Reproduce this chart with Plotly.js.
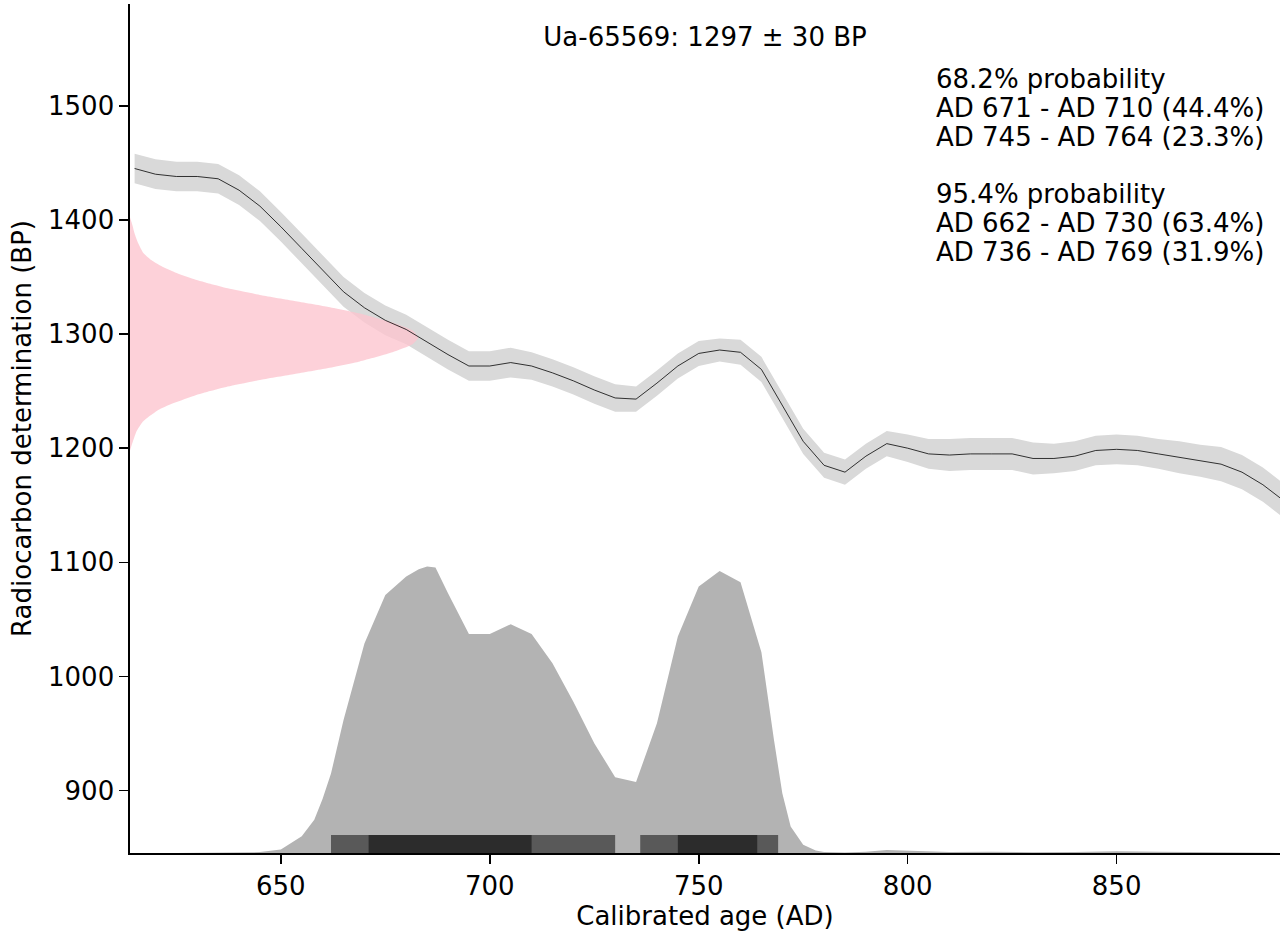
<!DOCTYPE html>
<html><head><meta charset="utf-8">
<script src="https://cdn.plot.ly/plotly-3.0.1.min.js"></script>
<style>html,body{margin:0;padding:0;background:#fff;}#chart{width:1280px;height:935px;}</style>
</head><body><div id="chart"></div>
<script>
// ---- data ----
const calYears = [615,620,625,630,635,640,645,650,655,660,665,670,675,680,685,690,695,700,705,710,715,720,725,730,735,740,745,750,755,760,765,770,775,780,785,790,795,800,805,810,815,820,825,830,835,840,845,850,855,860,865,870,875,880,885,890];
const calBP    = [1445,1440,1438,1438,1436,1426,1412,1394,1375,1356,1337,1323,1312,1304,1293,1282,1272,1272,1275,1272,1266,1259,1251,1244,1243,1257,1272,1283,1286,1284,1269,1237,1206,1185,1179,1193,1204,1200,1195,1194,1195,1195,1195,1191,1191,1193,1198,1199,1198,1195,1192,1189,1186,1179,1168,1154];
const calSigma = [13,13,13,13,13,13,13,13,13,13,13,13,13,13,13,13,13,13,13,12,12,12,12,12,11,11,11,11,10,11,11,11,11,11,11,11,11,12,13,14,14,14,14,14,13,13,13,13,13,13,14,14,15,15,15,15];

// measured date (pink, drawn against the y axis): BP and extent in years from the left axis
const pinkBP    = [1402,1395,1388,1380,1371,1365,1360,1354,1348,1344,1340,1334,1329,1324,1318,1310,1303,1297,1291,1284,1276,1270,1265,1260,1254,1250,1246,1240,1234,1228,1223,1215,1206,1198];
const pinkWidth = [0,0.6,1.1,1.9,3.2,5,7.2,10.8,15.4,19.2,23.4,31.4,39.4,47.2,55.0,62.8,67.6,69,67.6,62.8,55.0,47.2,39.4,31.4,23.4,19.2,15.4,10.8,7.0,4.6,3.0,1.6,0.7,0];

// calibrated probability distribution (drawn in BP units above the axis floor)
const distYears = [625,640,645,650,655,658,660,662,665,670,675,680,683,685,687,690,695,700,705,710,715,720,725,730,735,740,745,750,755,760,765,768,770,772,775,778,780,785,790,795,800,810,820,830,840,850,860,870,889];
const distBP    = [845.5,845.6,846.2,848.5,860,874.5,893,915,962,1029,1071.5,1087.5,1094,1096.3,1095.5,1073,1037.3,1037.3,1045.8,1037.3,1011.7,978,941.6,911.8,907.5,959.1,1035,1078.8,1092.5,1082.6,1021.3,944.5,897.8,868.6,852.6,847.5,846.3,845.8,846.5,848,847.3,846.3,846.5,846,846.3,847,846.5,846,845.5];

// highest probability ranges
const range95Start = [662,736], range95End = [730,769];
const range68Start = [671,745], range68End = [710,764];

const titleText = 'Ua-65569: 1297 \u00b1 30 BP';
const probLines = ['68.2% probability','AD 671 - AD 710 (44.4%)','AD 745 - AD 764 (23.3%)','95.4% probability','AD 662 - AD 730 (63.4%)','AD 736 - AD 769 (31.9%)'];
const xTicks = [650,700,750,800,850];
const yTicks = [900,1000,1100,1200,1300,1400,1500];

// ---- layout constants ----
const X_RANGE = [613.9, 889.1];
const Y_RANGE = [845.4, 1589.1];
const BAR_TOP = 861.2;
const FONT = 'DejaVu Sans, sans-serif';
const FS = 26;
const probLinePx = [79,108,137,194,223,252];
const M = {l:130, r:0, t:4, b:82};
const plotH = 935 - M.t - M.b;

function rangeTraces(starts, ends, color) {
  return starts.map((s,i)=>({
    x:[s, ends[i], ends[i], s, s], y:[Y_RANGE[0], Y_RANGE[0], BAR_TOP, BAR_TOP, Y_RANGE[0]],
    type:'scatter', mode:'lines', fill:'toself', fillcolor:color, line:{width:0, color:color}, hoverinfo:'skip'
  }));
}

const traces = [
  {x: distYears, y: distBP, type:'scatter', mode:'lines', fill:'tozeroy', fillcolor:'#b3b3b3', line:{width:0, color:'#b3b3b3'}, hoverinfo:'skip'},
  ...rangeTraces(range95Start, range95End, '#595959'),
  ...rangeTraces(range68Start, range68End, '#2c2c2c'),
  {x: calYears, y: calBP.map((v,i)=>v - calSigma[i]), type:'scatter', mode:'lines', line:{width:0, color:'#d9d9d9'}, hoverinfo:'skip'},
  {x: calYears, y: calBP.map((v,i)=>v + calSigma[i]), type:'scatter', mode:'lines', fill:'tonexty', fillcolor:'#d9d9d9', line:{width:0, color:'#d9d9d9'}, hoverinfo:'skip'},
  {x: pinkWidth.map(w => X_RANGE[0] + w), y: pinkBP, type:'scatter', mode:'lines', fill:'toself', fillcolor:'rgba(252,196,206,0.78)', line:{width:0, shape:'spline', smoothing:0.5}, hoverinfo:'skip'},
  {x: calYears, y: calBP, type:'scatter', mode:'lines', line:{width:1, color:'rgba(0,0,0,0.78)'}, hoverinfo:'skip'}
];

const axisCommon = {
  showline:true, linecolor:'#000', linewidth:1.6, ticks:'outside', ticklen:9, tickwidth:1.6, tickcolor:'#000',
  showgrid:false, zeroline:false, tickfont:{family:FONT, size:FS, color:'#000'}, fixedrange:true
};

const annotations = probLines.map((t,i)=>({
  text: t, xref:'paper', yref:'paper', x:(934-M.l)/1150, y: 1 - (probLinePx[i]-M.t)/plotH,
  xanchor:'left', yanchor:'middle', showarrow:false, font:{family:FONT, size:FS, color:'#000'}
}));

const layout = {
  width:1280, height:935, margin:M, paper_bgcolor:'#fff', plot_bgcolor:'#fff',
  showlegend:false,
  font:{family:FONT, size:FS, color:'#000'},
  title:{text:titleText, font:{family:FONT, size:FS, color:'#000'}, xref:'container', yref:'container', x:705/1280, xanchor:'center', y:1-37/935, yanchor:'middle'},
  xaxis: Object.assign({}, axisCommon, {range:X_RANGE, tickvals:xTicks, ticktext:xTicks.map(String),
    title:{text:'Calibrated age (AD)', font:{family:FONT, size:FS, color:'#000'}, standoff:6}}),
  yaxis: Object.assign({}, axisCommon, {range:Y_RANGE, tickvals:yTicks, ticktext:yTicks.map(String),
    title:{text:'Radiocarbon determination (BP)', font:{family:FONT, size:FS, color:'#000'}, standoff:9}}),
  annotations: annotations
};

Plotly.newPlot('chart', traces, layout, {displayModeBar:false, staticPlot:true});
</script>
</body></html>
